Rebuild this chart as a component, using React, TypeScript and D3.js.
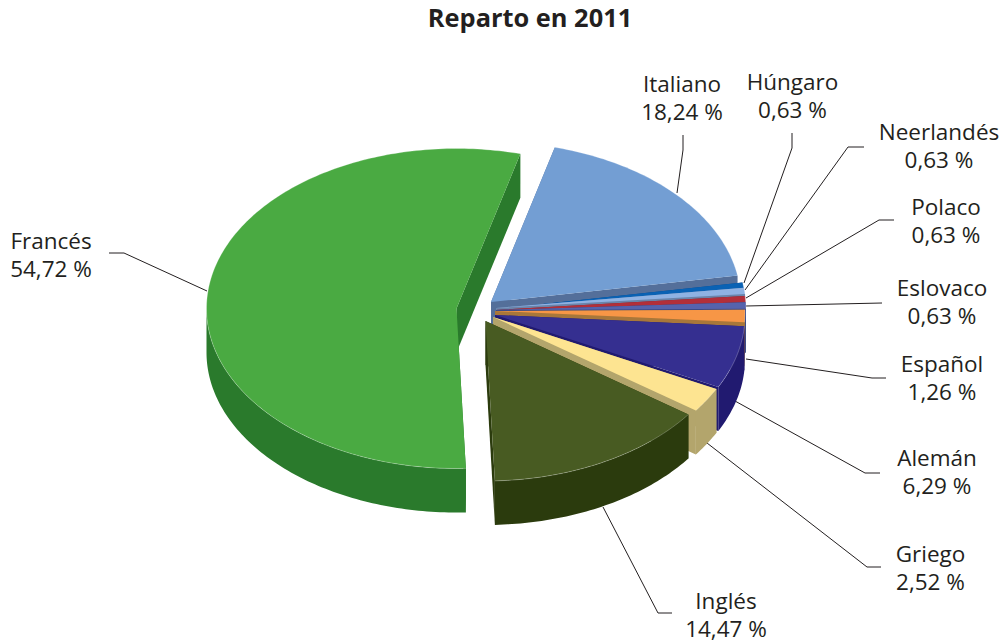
import React from "react";
import * as d3 from "d3";

const languages = ["Italiano", "Húngaro", "Neerlandés", "Polaco", "Eslovaco", "Español", "Alemán", "Griego", "Inglés", "Francés"];
const shares = [18.24, 0.63, 0.63, 0.63, 0.63, 1.26, 6.29, 2.52, 14.47, 54.72];
const shareLabels = ["18,24 %", "0,63 %", "0,63 %", "0,63 %", "0,63 %", "1,26 %", "6,29 %", "2,52 %", "14,47 %", "54,72 %"];

const topColors = ["#739ed3", "#0a62b4", "#8fb2e3", "#b22f3a", "#5663ad", "#f79646", "#352f90", "#fde491", "#485b22", "#4aaa42"];
const wallColors = ["#546f9a", "#08468a", "#6a85ab", "#80212a", "#3d4a85", "#a8773a", "#211a70", "#b3a56c", "#2b3b0d", "#2a7a2c"];

// exploded centres of each slice on the page
const centres: [number, number][] = [
  [491, 302], [496, 309], [496, 308], [496, 310], [496, 310], [495, 311], [495, 315], [493, 317], [485.5, 321], [456.5, 308.5],
];

const RX = 250, RY = 160, DEPTH = 44;
const W = 1003, H = 643;
const START = (14.8 * Math.PI) / 180;

// leader polylines and label anchors
const leaders: [number, number][][] = [
  [[677, 193], [683, 150], [683, 135]],
  [[744, 283], [792, 148], [792, 133]],
  [[745, 290], [848, 147], [864, 147]],
  [[746, 298], [879, 220], [894, 220]],
  [[746, 306], [882, 303]],
  [[746, 359], [872, 378], [886, 378]],
  [[735, 401], [865, 473], [880, 473]],
  [[707, 443], [867, 567], [881, 567]],
  [[603, 507], [658, 613], [672, 613]],
  [[207, 291], [124, 253], [109, 253]],
];
const labelAt: [number, number][] = [
  [682, 92], [792.5, 90], [939, 140], [946, 215], [942, 295.5], [942, 372], [937, 465.5], [930.5, 562], [726, 609], [51, 248.5],
];

const line = d3.line<[number, number]>();
const pieGen = d3.pie<number>().sort(null).startAngle(START).endAngle(START + 2 * Math.PI);
const arcs = pieGen(shares);
const degStep = Math.PI / 180;

function onRim(c: [number, number], a: number, drop = 0): [number, number] {
  return [c[0] + RX * Math.sin(a), c[1] - RY * Math.cos(a) + drop];
}
function rim(c: [number, number], a0: number, a1: number, drop = 0): [number, number][] {
  const n = Math.max(2, Math.ceil((a1 - a0) / degStep) + 1);
  return d3.range(n).map((i) => onRim(c, a0 + ((a1 - a0) * i) / (n - 1), drop));
}

export default function App() {
  return (
    <svg width={W} height={H} style={{ position: "absolute", left: 0, top: 0, fontFamily: "'Open Sans', sans-serif" }}>
      <rect width={W} height={H} fill="#fff" />
      <text x={530} y={27} textAnchor="middle" fontSize={25.4} fontWeight={700} fill="#231f20">Reparto en 2011</text>
      {leaders.map((l, i) => (
        <path key={i} d={line(l) ?? ""} fill="none" stroke="#231f20" strokeWidth={1} />
      ))}
      {[9, 0, 1, 2, 3, 4, 5, 6, 7, 8].map((i) => {
        const a = arcs[i];
        const c = centres[i];
        const wallFrom = Math.max(a.startAngle, Math.PI / 2);
        const wallTo = Math.min(a.endAngle, (3 * Math.PI) / 2);
        const outerWall = wallTo > wallFrom
          ? [...rim(c, wallFrom, wallTo), ...rim(c, wallFrom, wallTo, DEPTH).reverse()]
          : null;
        const cut = (ang: number): [number, number][] => [c, onRim(c, ang), onRim(c, ang, DEPTH), [c[0], c[1] + DEPTH]];
        const top: [number, number][] = [c, ...rim(c, a.startAngle, a.endAngle)];
        return (
          <g key={languages[i]}>
            <path d={(line(cut(a.startAngle)) ?? "") + "Z"} fill={wallColors[i]} />
            <path d={(line(cut(a.endAngle)) ?? "") + "Z"} fill={wallColors[i]} />
            {outerWall && <path d={(line(outerWall) ?? "") + "Z"} fill={wallColors[i]} />}
            <path d={(line(top) ?? "") + "Z"} fill={topColors[i]} />
            <path d={line(rim(c, a.startAngle, a.endAngle)) ?? ""} fill="none" stroke="#fff" strokeOpacity={0.3} strokeWidth={0.8} />
          </g>
        );
      })}
      {languages.map((name, i) => (
        <text key={name} textAnchor="middle" fontSize={22.5} fill="#231f20">
          <tspan x={labelAt[i][0]} y={labelAt[i][1]}>{name}</tspan>
          <tspan x={labelAt[i][0]} y={labelAt[i][1] + 28}>{shareLabels[i]}</tspan>
        </text>
      ))}
    </svg>
  );
}
